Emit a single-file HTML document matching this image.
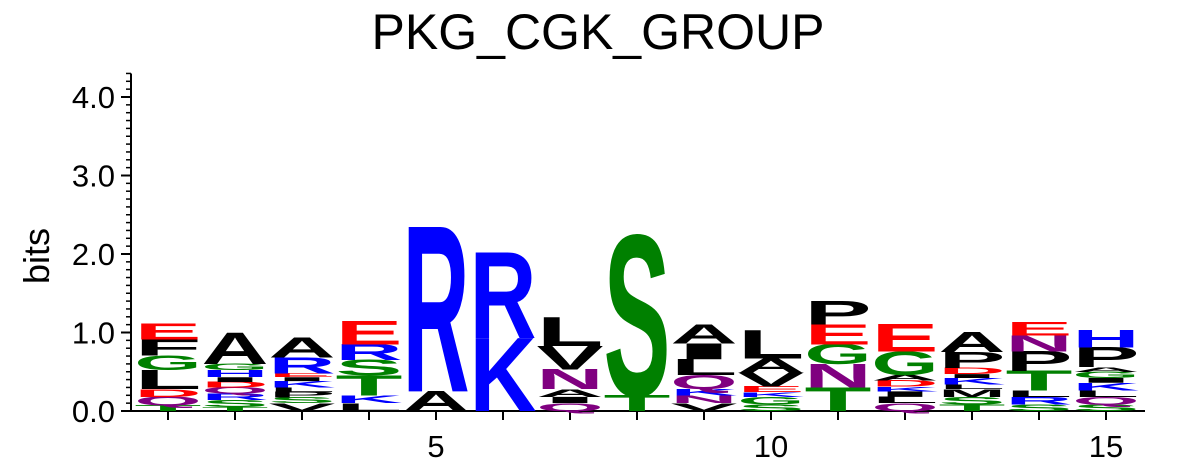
<!DOCTYPE html>
<html><head><meta charset="utf-8"><style>
html,body{margin:0;padding:0;background:#fff;}
svg{display:block;font-family:"Liberation Sans",Arial,sans-serif;}
</style></head><body>
<svg id="chart" width="1196" height="471" viewBox="0 0 1196 471">
<text x="598" y="49" font-size="50" text-anchor="middle">PKG_CGK_GROUP</text>
<text transform="translate(49,256) rotate(-90)" font-size="36" text-anchor="middle">bits</text>
<g id="axes"></g>
<g id="marks"></g>
</svg>
<script>
const positions = [1,2,3,4,5,6,7,8,9,10,11,12,13,14,15];
const letters = [
 ["T","Q","D","L","G","F","E"],
 ["T","S","R","Q","D","I","H","G","A"],
 ["V","S","P","L","K","I","E","R","A"],
 ["L","K","T","S","R","E"],
 ["A","R"],
 ["K","R"],
 ["Q","I","A","N","V","L"],
 ["T","S"],
 ["V","N","K","Q","L","I","A"],
 ["S","G","K","E","V","A","L"],
 ["T","N","G","E","P"],
 ["Q","L","I","K","D","A","G","E"],
 ["T","S","M","L","K","I","D","P","A"],
 ["S","R","L","T","P","N","E"],
 ["S","Q","L","K","I","G","A","P","H"]
];
const heights = [
 [0.07,0.11,0.10,0.24,0.19,0.20,0.20],
 [0.05,0.09,0.08,0.08,0.07,0.06,0.09,0.08,0.40],
 [0.10,0.07,0.07,0.06,0.08,0.05,0.05,0.20,0.25],
 [0.10,0.10,0.25,0.20,0.20,0.30],
 [0.25,2.10],
 [0.93,1.09],
 [0.10,0.08,0.10,0.25,0.30,0.37],
 [0.20,2.03],
 [0.10,0.10,0.08,0.18,0.20,0.20,0.24],
 [0.08,0.10,0.06,0.07,0.18,0.18,0.36],
 [0.30,0.30,0.25,0.25,0.30],
 [0.10,0.08,0.07,0.06,0.08,0.07,0.30,0.35],
 [0.08,0.10,0.10,0.06,0.08,0.05,0.08,0.20,0.25],
 [0.08,0.10,0.08,0.25,0.25,0.20,0.17],
 [0.08,0.10,0.08,0.10,0.06,0.08,0.06,0.25,0.22]
];
const yTicks = [0,1,2,3,4];
const yTickLabels = ["0.0","1.0","2.0","3.0","4.0"];
const xTickLabels = [5,10,15];

const NS="http://www.w3.org/2000/svg";
const X0=131, X1=1145, Y0=411, PPB=78.5, COLW=67;
const xPos = p => 168 + (p-1)*COLW;
const yPos = v => Y0 - v*PPB;
const colorOf = c => "DE".includes(c)?"#ff0000":"KRH".includes(c)?"#0000ff":"GSTYC".includes(c)?"#008000":"QN".includes(c)?"#800080":"#000000";
function mk(tag, attrs, parent){const e=document.createElementNS(NS,tag);for(const k in attrs)e.setAttribute(k,attrs[k]);parent.appendChild(e);return e;}

const axes=document.getElementById('axes');
let yl=mk('line',{x1:X0,y1:yPos(4.3),x2:X0,y2:Y0,stroke:'#000','stroke-width':2},axes);


let xl=mk('line',{x1:X0,y1:Y0,x2:X1,y2:Y0,stroke:'#000','stroke-width':2},axes);


for(let i=0;i<=43;i++){
  const v=i/10, major=i%10===0;
  const t=mk('line',{x1:X0-(major?10:5),y1:yPos(v),x2:X0,y2:yPos(v),stroke:'#000','stroke-width':major?2:1.5},axes);
  
  
}
yTicks.forEach((v,i)=>{
  const t=mk('text',{x:X0-16,y:yPos(v)+11,'font-size':31,'text-anchor':'end'},axes);
  t.textContent=yTickLabels[i];
  
  
});
positions.forEach(p=>{
  const t=mk('line',{x1:xPos(p),y1:Y0,x2:xPos(p),y2:Y0+9,stroke:'#000','stroke-width':2},axes);
  
  
});
xTickLabels.forEach(p=>{
  const t=mk('text',{x:xPos(p),y:Y0+46,'font-size':31,'text-anchor':'middle'},axes);
  t.textContent=p;
  
  
});

const marks=document.getElementById('marks');
positions.forEach((p,i)=>{
  let base=0;
  letters[i].forEach((c,j)=>{
    const h=heights[i][j];
    const yb=yPos(base), ht=h*PPB;
    const sy=ht/69;
    const g=mk('g',{transform:`translate(${xPos(p)-COLW/2},${yb}) scale(1,${sy})`},marks);
    const t=mk('text',{x:0,y:0,'font-size':100,'font-weight':'bold',fill:colorOf(c),textLength:COLW,lengthAdjust:'spacingAndGlyphs'},g);
    t.textContent=c;
    
    
    base+=h;
  });
});
</script>
</body></html>
